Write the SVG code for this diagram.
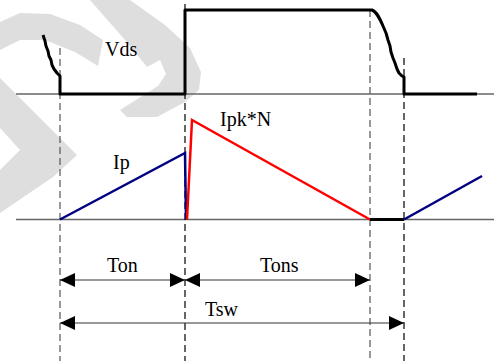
<svg xmlns="http://www.w3.org/2000/svg" width="494" height="361" viewBox="0 0 494 361">
<style>
.wm{fill:#dedede;stroke:none}
.base{stroke:#666;stroke-width:1.5;fill:none}
.dash{stroke-width:1.2;stroke-dasharray:7,4;fill:none}
.thick{stroke:#000;stroke-width:3;fill:none;stroke-linejoin:round}
.wave{stroke-width:2.5;fill:none;stroke-linejoin:miter}
.dim{stroke:#333;stroke-width:1.2;fill:none;marker-start:url(#ah);marker-end:url(#ah)}
.lbl{font-family:"Liberation Serif","Times New Roman",serif;font-size:20px;fill:#000}
</style>
<defs>
<marker id="ah" viewBox="0 0 15 14" refX="15" refY="7" markerWidth="15" markerHeight="14" markerUnits="userSpaceOnUse" orient="auto-start-reverse">
<path d="M0,0 L15,7 L0,14 Z" fill="#000"/>
</marker>
</defs>
<rect width="494" height="361" fill="#fff"/>
<g id="watermark">
<path class="wm" d="M90,0 L130,0 L165,25 L190,48 L201,72 L199,90 L185,102 L157,117 L127,117 L120,110 L158,86 L166,74 L160,60 L147,67 L125,40 Z"/>
<path class="wm" d="M0,22 L20,13 L50,14 L80,25 L103,40 L98,66 L75,52 L45,40 L20,40 L0,50 Z"/>
<path class="wm" d="M0,78 L77,155 L53,177 L0,213 L0,170 L20,150 L0,128 Z"/>
</g>
<g id="baselines">
<line class="base" x1="16" y1="94" x2="494" y2="94"/>
<line class="base" x1="16" y1="219.5" x2="494" y2="219.5"/>
</g>
<g id="markers">
<line class="dash" stroke="#555" x1="60" y1="48" x2="60" y2="361"/>
<line class="dash" stroke="#000" x1="185" y1="4" x2="185" y2="361"/>
<line class="dash" stroke="#555" x1="370" y1="10" x2="370" y2="361"/>
<line class="dash" stroke="#000" x1="404" y1="58" x2="404" y2="361"/>
</g>
<g id="vds">
<path class="thick" stroke="#333" d="M43,35 L45,41 L46,46 L48,51 L49,56 L51,60 L52,65 L54,69 L57,73 L60,76 L60,94 L185,94 L185,10 L372,10 C377,12 380,19 383,26 L386,33 L388,40 L390,46 L391,52 L393,58 L395,63 L397,69 L399,73 L402,76 L404,77 L404,94 L477,94"/>
<text class="lbl" x="105" y="56">Vds</text>
</g>
<g id="current">
<path class="wave" stroke="#000080" d="M60,219.5 L185,153 L186,219.5"/>
<path class="wave" stroke="#ff0000" d="M187,219.5 L192,120 L370,219.5"/>
<path class="thick" d="M370,219.5 L404,219.5"/>
<path class="wave" stroke="#000080" d="M404,219.5 L482,176"/>
<text class="lbl" x="113" y="169">Ip</text>
<text class="lbl" x="220" y="126">Ipk*N</text>
</g>
<g id="connectors">
<line class="dim" x1="60" y1="280" x2="185" y2="280"/>
<line class="dim" x1="185" y1="280" x2="370" y2="280"/>
<line class="dim" x1="60" y1="323" x2="404" y2="323"/>
</g>
<g id="labels">
<text class="lbl" x="107" y="272">Ton</text>
<text class="lbl" x="260" y="272">Tons</text>
<text class="lbl" x="205" y="316">Tsw</text>
</g>
</svg>
